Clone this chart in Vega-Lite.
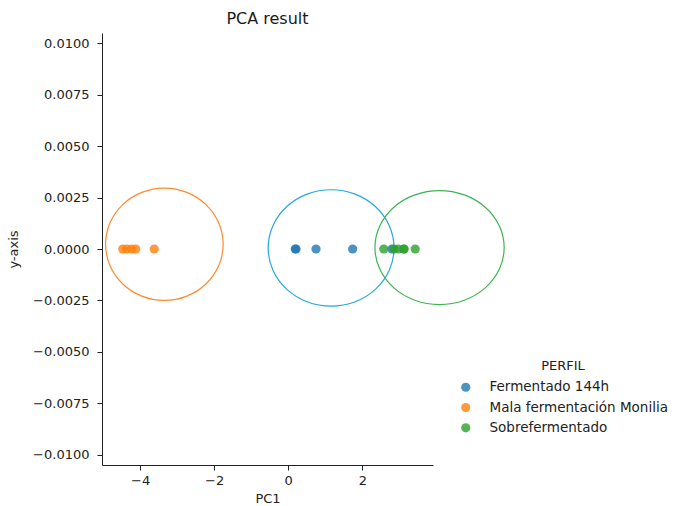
{
  "$schema": "https://vega.github.io/schema/vega-lite/v6.json",
  "autosize": "none",
  "width": 331,
  "height": 432,
  "padding": {"left": 102, "top": 33, "right": 246, "bottom": 41},
  "background": "white",
  "title": {"text": "PCA result", "fontSize": 16, "font": "DejaVu Sans", "fontWeight": "normal", "color": "#1a1a1a", "anchor": "middle", "offset": 6},
  "config": {
    "view": {"stroke": null},
    "font": "DejaVu Sans",
    "axis": {
      "grid": false,
      "domainColor": "#222222",
      "domainWidth": 1,
      "tickColor": "#222222",
      "tickSize": 5,
      "labelFont": "DejaVu Sans",
      "labelFontSize": 13,
      "labelColor": "#222222",
      "labelPadding": 4,
      "titleFont": "DejaVu Sans",
      "titleFontSize": 13,
      "titleFontWeight": "normal",
      "titleColor": "#222222"
    },
    "legend": {
      "labelFont": "DejaVu Sans",
      "titleFont": "DejaVu Sans"
    }
  },
  "datasets": {
    "points": [
      {"PC1": -4.47, "y": 0, "PERFIL": "Mala fermentación Monilia"},
      {"PC1": -4.36, "y": 0, "PERFIL": "Mala fermentación Monilia"},
      {"PC1": -4.23, "y": 0, "PERFIL": "Mala fermentación Monilia"},
      {"PC1": -4.12, "y": 0, "PERFIL": "Mala fermentación Monilia"},
      {"PC1": -3.62, "y": 0, "PERFIL": "Mala fermentación Monilia"},
      {"PC1": 0.19, "y": 0, "PERFIL": "Fermentado 144h"},
      {"PC1": 0.21, "y": 0, "PERFIL": "Fermentado 144h"},
      {"PC1": 0.75, "y": 0, "PERFIL": "Fermentado 144h"},
      {"PC1": 1.74, "y": 0, "PERFIL": "Fermentado 144h"},
      {"PC1": 2.80, "y": 0, "PERFIL": "Fermentado 144h"},
      {"PC1": 2.58, "y": 0, "PERFIL": "Sobrefermentado"},
      {"PC1": 2.86, "y": 0, "PERFIL": "Sobrefermentado"},
      {"PC1": 2.97, "y": 0, "PERFIL": "Sobrefermentado"},
      {"PC1": 3.12, "y": 0, "PERFIL": "Sobrefermentado"},
      {"PC1": 3.13, "y": 0, "PERFIL": "Sobrefermentado"},
      {"PC1": 3.43, "y": 0, "PERFIL": "Sobrefermentado"}
    ],
    "ellipses": [
      {"grp": "Mala fermentación Monilia", "i": 0, "ex": -1.758, "ey": 0.00023},
      {"grp": "Mala fermentación Monilia", "i": 1, "ex": -1.879, "ey": 0.001275},
      {"grp": "Mala fermentación Monilia", "i": 2, "ex": -2.223, "ey": 0.00216},
      {"grp": "Mala fermentación Monilia", "i": 3, "ex": -2.738, "ey": 0.002752},
      {"grp": "Mala fermentación Monilia", "i": 4, "ex": -3.346, "ey": 0.00296},
      {"grp": "Mala fermentación Monilia", "i": 5, "ex": -3.954, "ey": 0.002752},
      {"grp": "Mala fermentación Monilia", "i": 6, "ex": -4.469, "ey": 0.00216},
      {"grp": "Mala fermentación Monilia", "i": 7, "ex": -4.813, "ey": 0.001275},
      {"grp": "Mala fermentación Monilia", "i": 8, "ex": -4.934, "ey": 0.00023},
      {"grp": "Mala fermentación Monilia", "i": 9, "ex": -4.813, "ey": -0.000815},
      {"grp": "Mala fermentación Monilia", "i": 10, "ex": -4.469, "ey": -0.0017},
      {"grp": "Mala fermentación Monilia", "i": 11, "ex": -3.954, "ey": -0.002292},
      {"grp": "Mala fermentación Monilia", "i": 12, "ex": -3.346, "ey": -0.0025},
      {"grp": "Mala fermentación Monilia", "i": 13, "ex": -2.738, "ey": -0.002292},
      {"grp": "Mala fermentación Monilia", "i": 14, "ex": -2.223, "ey": -0.0017},
      {"grp": "Mala fermentación Monilia", "i": 15, "ex": -1.879, "ey": -0.000815},
      {"grp": "Fermentado 144h", "i": 0, "ex": 2.858, "ey": 0.00005},
      {"grp": "Fermentado 144h", "i": 1, "ex": 2.729, "ey": 0.001133},
      {"grp": "Fermentado 144h", "i": 2, "ex": 2.360, "ey": 0.002051},
      {"grp": "Fermentado 144h", "i": 3, "ex": 1.809, "ey": 0.002665},
      {"grp": "Fermentado 144h", "i": 4, "ex": 1.158, "ey": 0.00288},
      {"grp": "Fermentado 144h", "i": 5, "ex": 0.507, "ey": 0.002665},
      {"grp": "Fermentado 144h", "i": 6, "ex": -0.044, "ey": 0.002051},
      {"grp": "Fermentado 144h", "i": 7, "ex": -0.413, "ey": 0.001133},
      {"grp": "Fermentado 144h", "i": 8, "ex": -0.542, "ey": 0.00005},
      {"grp": "Fermentado 144h", "i": 9, "ex": -0.413, "ey": -0.001033},
      {"grp": "Fermentado 144h", "i": 10, "ex": -0.044, "ey": -0.001951},
      {"grp": "Fermentado 144h", "i": 11, "ex": 0.507, "ey": -0.002565},
      {"grp": "Fermentado 144h", "i": 12, "ex": 1.158, "ey": -0.00278},
      {"grp": "Fermentado 144h", "i": 13, "ex": 1.809, "ey": -0.002565},
      {"grp": "Fermentado 144h", "i": 14, "ex": 2.360, "ey": -0.001951},
      {"grp": "Fermentado 144h", "i": 15, "ex": 2.729, "ey": -0.001033},
      {"grp": "Sobrefermentado", "i": 0, "ex": 5.832, "ey": 0.00007},
      {"grp": "Sobrefermentado", "i": 1, "ex": 5.699, "ey": 0.00113},
      {"grp": "Sobrefermentado", "i": 2, "ex": 5.321, "ey": 0.002029},
      {"grp": "Sobrefermentado", "i": 3, "ex": 4.755, "ey": 0.002629},
      {"grp": "Sobrefermentado", "i": 4, "ex": 4.087, "ey": 0.00284},
      {"grp": "Sobrefermentado", "i": 5, "ex": 3.419, "ey": 0.002629},
      {"grp": "Sobrefermentado", "i": 6, "ex": 2.853, "ey": 0.002029},
      {"grp": "Sobrefermentado", "i": 7, "ex": 2.475, "ey": 0.00113},
      {"grp": "Sobrefermentado", "i": 8, "ex": 2.342, "ey": 0.00007},
      {"grp": "Sobrefermentado", "i": 9, "ex": 2.475, "ey": -0.00099},
      {"grp": "Sobrefermentado", "i": 10, "ex": 2.853, "ey": -0.001889},
      {"grp": "Sobrefermentado", "i": 11, "ex": 3.419, "ey": -0.002489},
      {"grp": "Sobrefermentado", "i": 12, "ex": 4.087, "ey": -0.0027},
      {"grp": "Sobrefermentado", "i": 13, "ex": 4.755, "ey": -0.002489},
      {"grp": "Sobrefermentado", "i": 14, "ex": 5.321, "ey": -0.001889},
      {"grp": "Sobrefermentado", "i": 15, "ex": 5.699, "ey": -0.00099}
    ]
  },
  "encoding": {
    "x": {"type": "quantitative", "scale": {"domain": [-5.03, 3.91], "nice": false, "zero": false}, "axis": {"values": [-4, -2, 0, 2], "format": "d", "title": "PC1", "titlePadding": 5}},
    "y": {"type": "quantitative", "scale": {"domain": [-0.0105, 0.0105], "nice": false, "zero": false}, "axis": {"values": [-0.01, -0.0075, -0.005, -0.0025, 0, 0.0025, 0.005, 0.0075, 0.01], "format": ".4f", "title": "y-axis", "titlePadding": 12, "labelPadding": 8}}
  },
  "layer": [
    {
      "data": {"name": "ellipses"},
      "transform": [{"filter": "datum.grp === 'Mala fermentación Monilia'"}],
      "mark": {"type": "line", "interpolate": "cardinal-closed", "strokeWidth": 1.2, "clip": false, "color": "#ff8a2e"},
      "encoding": {
        "x": {"field": "ex", "type": "quantitative"},
        "y": {"field": "ey", "type": "quantitative"},
        "order": {"field": "i", "type": "quantitative"}
      }
    },
    {
      "data": {"name": "ellipses"},
      "transform": [{"filter": "datum.grp === 'Fermentado 144h'"}],
      "mark": {"type": "line", "interpolate": "cardinal-closed", "strokeWidth": 1.2, "clip": false, "color": "#2aa6e2"},
      "encoding": {
        "x": {"field": "ex", "type": "quantitative"},
        "y": {"field": "ey", "type": "quantitative"},
        "order": {"field": "i", "type": "quantitative"}
      }
    },
    {
      "data": {"name": "ellipses"},
      "transform": [{"filter": "datum.grp === 'Sobrefermentado'"}],
      "mark": {"type": "line", "interpolate": "cardinal-closed", "strokeWidth": 1.2, "clip": false, "color": "#3db452"},
      "encoding": {
        "x": {"field": "ex", "type": "quantitative"},
        "y": {"field": "ey", "type": "quantitative"},
        "order": {"field": "i", "type": "quantitative"}
      }
    },
    {
      "data": {"name": "points"},
      "mark": {"type": "point", "filled": true, "size": 85, "opacity": 0.8},
      "encoding": {
        "x": {"field": "PC1", "type": "quantitative"},
        "y": {"field": "y", "type": "quantitative"},
        "color": {"field": "PERFIL", "type": "nominal", "scale": {"domain": ["Fermentado 144h", "Mala fermentación Monilia", "Sobrefermentado"], "range": ["#1f77b4", "#ff7f0e", "#2ca02c"]},
          "legend": {"orient": "none", "legendX": 357, "legendY": 327, "padding": 0, "title": "PERFIL", "titleAnchor": "middle", "titleFontSize": 13, "titleFontWeight": "normal", "titleColor": "#222222", "titlePadding": 7.5, "labelFontSize": 13.5, "labelColor": "#222222", "labelOffset": 17, "labelLimit": 0, "symbolSize": 85, "symbolOpacity": 0.8, "rowPadding": 5.3, "symbolStrokeWidth": 0}
        }
      }
    }
  ]
}
